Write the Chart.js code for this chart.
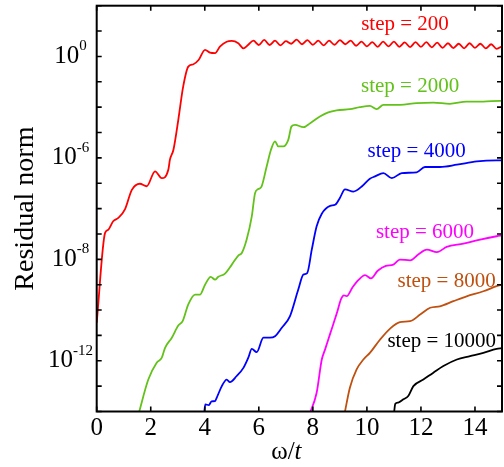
<!DOCTYPE html>
<html>
<head>
<meta charset="utf-8">
<script src="https://cdn.jsdelivr.net/npm/chart.js@4.4.1/dist/chart.umd.min.js"></script>
<style>
  body { margin: 0; background: #fff; }
  canvas { display: block; }
</style>
</head>
<body>
<canvas id="chart" width="504" height="467"></canvas>
<script>
// Valores (x = ω/t, y = norma del residuo)
const red_x = [0, 0.31, 0.43, 0.61, 0.8, 1.05, 1.3, 1.6, 1.85, 2.16, 2.41, 2.65, 2.71, 2.84, 3.02, 3.2, 3.39, 3.58, 3.77, 4.01, 4.19, 4.38, 4.56, 4.81, 5.0, 5.24, 5.43,
  5.6, 5.8, 6.0, 6.2, 6.4, 6.6, 6.8, 7.0, 7.2, 7.4, 7.6, 7.8, 8.0, 8.2, 8.4, 8.6, 8.8, 9.0, 9.2, 9.4, 9.6, 9.8, 10.0, 10.2, 10.4, 10.6, 10.8, 11.0,
  11.2, 11.4, 11.6, 11.8, 12.0, 12.2, 12.4, 12.6, 12.8, 13.0, 13.2, 13.4, 13.6, 13.8, 14.0, 14.2, 14.4, 14.6, 14.8, 15.0];
const red_y = [3.16e-11, 1.10e-7, 1.48e-7, 3.16e-7, 4.27e-7, 9.55e-7, 5.50e-6, 9.55e-6, 7.59e-6, 2.95e-5, 1.58e-5, 3.39e-5, 8.51e-5, 2.09e-4, 3.16e-3, 6.46e-2, 0.398, 0.49, 0.72, 1.82, 1.41, 1.35, 2.45, 3.80, 4.07, 3.31, 2.09,
  2.82, 4.17, 2.82, 4.47, 2.82, 4.17, 2.75, 3.98, 3.16, 4.57, 3.02, 4.37, 2.88, 4.17, 2.75, 4.17, 2.88, 4.37, 3.02, 4.17, 2.63, 3.80, 2.51, 3.63, 2.40, 3.80, 2.51, 3.80,
  2.40, 3.55, 2.34, 3.63, 2.40, 3.63, 2.29, 3.47, 2.19, 3.31, 2.14, 3.16, 2.09, 3.31, 2.19, 3.16, 2.09, 3.02, 2.0, 2.51];

const green_x = [1.55, 1.91, 2.22, 2.41, 2.53, 2.78, 3.02, 3.18, 3.39, 3.64, 3.82, 4.01, 4.22, 4.38, 4.5, 4.75, 5.0, 5.24, 5.37, 5.55, 5.74, 5.86, 5.98, 6.1, 6.29, 6.45, 6.6, 6.72, 6.9,
  7.09, 7.21, 7.34, 7.65, 7.9, 8.26, 8.57, 8.88, 9.37, 9.74, 10.11, 10.36, 10.61, 11.22, 11.84, 12.46, 13.07, 13.69, 14.31, 14.93, 15.0];
const green_y = [7.94e-15, 1.82e-13, 8.32e-13, 1.32e-12, 3.24e-12, 8.13e-12, 2.45e-11, 3.63e-11, 1.66e-10, 4.07e-10, 4.07e-10, 1e-9, 2.04e-9, 1.58e-9, 2.04e-9, 2.75e-9, 6.17e-9, 1.41e-8, 1.78e-8, 6.03e-8, 4.90e-7, 4.07e-6, 5.89e-6, 7.41e-6, 4.57e-5, 2.09e-4, 4.47e-4, 2.82e-4, 2.82e-4,
  5.13e-4, 1.74e-3, 2.0e-3, 1.62e-3, 2.34e-3, 4.27e-3, 6.17e-3, 7.41e-3, 8.32e-3, 1e-2, 1.12e-2, 8.32e-3, 1.23e-2, 1.23e-2, 1.45e-2, 1.51e-2, 1.35e-2, 1.66e-2, 1.66e-2, 1.78e-2, 1.74e-2];

const blue_x = [3.98, 4.02, 4.15, 4.25, 4.38, 4.44, 4.63, 4.81, 4.93, 5.18, 5.43, 5.61, 5.74, 5.92, 6.17, 6.41, 6.6, 6.85, 7.15, 7.46, 7.65, 7.79, 7.96, 8.14, 8.33, 8.64, 8.82,
  9.0, 9.19, 9.5, 9.84, 10.11, 10.3, 10.61, 10.92, 11.29, 11.84, 12.15, 12.7, 13.33, 14.07, 14.8, 15.0];
const blue_y = [8.91e-15, 1.91e-14, 1.78e-14, 2.51e-14, 2.57e-14, 3.47e-14, 1e-13, 1.82e-13, 1.45e-13, 2.51e-13, 5.25e-13, 1.32e-12, 2.95e-12, 2.19e-12, 8.13e-12, 8.13e-12, 9.33e-12, 2.0e-11, 5.62e-11, 6.46e-10, 2.51e-9, 2.88e-9, 2.40e-8, 2.0e-7, 6.31e-7, 1.29e-6, 1.41e-6,
  2.63e-6, 5.75e-6, 4.68e-6, 7.94e-6, 1.51e-5, 1.86e-5, 2.51e-5, 1.58e-5, 2.51e-5, 2.69e-5, 4.37e-5, 4.37e-5, 5.37e-5, 7.24e-5, 7.94e-5, 7.94e-5];

const magenta_x = [7.88, 8.14, 8.33, 8.45, 8.65, 8.88, 9.05, 9.15, 9.25, 9.47, 9.7, 9.93, 10.15, 10.4, 10.7, 10.98, 11.22, 11.6, 11.9, 12.22, 12.59, 12.95, 13.57, 14.19, 14.8, 15.0];
const magenta_y = [7.94e-15, 5.50e-14, 1.12e-12, 2.75e-12, 1.26e-11, 7.08e-11, 2.82e-10, 3.80e-10, 3.55e-10, 7.94e-10, 1.58e-9, 2.40e-9, 1.78e-9, 3.55e-9, 5.50e-9, 6.17e-9, 9.77e-9, 9.12e-9, 1.55e-8, 2.40e-8, 1.91e-8, 3.09e-8, 4.17e-8, 6.03e-8, 8.13e-8, 8.71e-8];

const brown_x = [9.17, 9.37, 9.62, 9.87, 10.11, 10.49, 10.85, 11.22, 11.6, 11.97, 12.34, 12.7, 13.2, 13.69, 14.31, 14.8, 15.0];
const brown_y = [7.94e-15, 8.71e-14, 4.57e-13, 1.12e-12, 2.04e-12, 6.92e-12, 1.82e-11, 3.31e-11, 3.63e-11, 6.61e-11, 1.23e-10, 1.41e-10, 2.24e-10, 3.47e-10, 5.50e-10, 8.71e-10, 1e-9];

const black_x = [11.0, 11.05, 11.16, 11.35, 11.53, 11.72, 12.09, 12.46, 12.83, 13.33, 13.82, 14.31, 14.8, 15.0];
const black_y = [7.94e-15, 2.0e-14, 2.24e-14, 3.02e-14, 4.07e-14, 1e-13, 1.82e-13, 3.39e-13, 6.17e-13, 1.12e-12, 1.51e-12, 2.04e-12, 2.95e-12, 3.16e-12];

const stepNames = ['step = 200', 'step = 2000', 'step = 4000', 'step = 6000', 'step = 8000', 'step = 10000'];
const stepLabelX = [11.41, 11.6, 11.84, 12.15, 12.95, 12.77];
const stepLabelY = [19, 6.3e-2, 1.74e-4, 1.1e-7, 1.35e-9, 5.9e-12];

const xTicks = [0, 2, 4, 6, 8, 10, 12, 14];
const yDecades = [1e-14, 1e-13, 1e-12, 1e-11, 1e-10, 1e-9, 1e-8, 1e-7, 1e-6, 1e-5, 1e-4, 1e-3, 1e-2, 1e-1, 1, 1e1, 1e2];
// etiquetas tal como aparecen en la figura
const yLabelValues = [1, 1e-4, 1e-8, 1e-12];
const yLabelExp = ['0', '-6', '-8', '-12'];

const colors = ['#ff0000', '#62c21a', '#0000ff', '#ff00ff', '#c0500f', '#000000'];
const series = [[red_x, red_y], [green_x, green_y], [blue_x, blue_y], [magenta_x, magenta_y], [brown_x, brown_y], [black_x, black_y]];

const serif = "'Liberation Serif', 'Times New Roman', serif";

// Dibuja marco, marcas hacia dentro y textos
const decor = {
  id: 'decor',
  afterDraw(chart) {
    const { ctx, chartArea: a, scales: { x, y } } = chart;
    ctx.save();
    ctx.strokeStyle = '#000';
    ctx.lineWidth = 1.6;
    ctx.beginPath();
    x.ticks.forEach(t => {
      const px = x.getPixelForValue(t.value);
      ctx.moveTo(px, a.bottom); ctx.lineTo(px, a.bottom - 5);
      ctx.moveTo(px, a.top); ctx.lineTo(px, a.top + 5);
    });
    y.ticks.forEach(t => {
      const py = y.getPixelForValue(t.value);
      ctx.moveTo(a.left, py); ctx.lineTo(a.left + 5, py);
      ctx.moveTo(a.right, py); ctx.lineTo(a.right - 5, py);
    });
    ctx.stroke();
    ctx.lineWidth = 2;
    ctx.strokeRect(a.left, a.top, a.width, a.height);

    // etiquetas del eje y: 10 con exponente
    ctx.fillStyle = '#000';
    ctx.textBaseline = 'alphabetic';
    ctx.textAlign = 'left';
    yLabelValues.forEach((v, i) => {
      const py = y.getPixelForValue(v);
      ctx.font = '25px ' + serif;
      const wb = ctx.measureText('10').width;
      ctx.font = '15px ' + serif;
      const ws = ctx.measureText(yLabelExp[i]).width;
      const x0 = 70.5 - (wb + ws) / 2;
      ctx.font = '25px ' + serif;
      ctx.fillText('10', x0, py + 6.5);
      ctx.font = '15px ' + serif;
      ctx.fillText(yLabelExp[i], x0 + wb, py - 6);
    });

    // título del eje x: ω/t con t en cursiva
    ctx.font = '25px ' + serif;
    const w1 = ctx.measureText('ω/').width;
    ctx.font = 'italic 25px ' + serif;
    const w2 = ctx.measureText('t').width;
    const cx = (a.left + a.right) / 2 - 13;
    ctx.font = '25px ' + serif;
    ctx.fillText('ω/', cx - (w1 + w2) / 2, 459);
    ctx.font = 'italic 25px ' + serif;
    ctx.fillText('t', cx - (w1 + w2) / 2 + w1, 459);

    // rótulos de cada curva
    ctx.font = '21px ' + serif;
    ctx.textAlign = 'center';
    ctx.textBaseline = 'middle';
    stepNames.forEach((s, i) => {
      ctx.fillStyle = colors[i];
      ctx.fillText(s, x.getPixelForValue(stepLabelX[i]), y.getPixelForValue(stepLabelY[i]));
    });
    ctx.restore();
  }
};

const ctx = document.getElementById('chart').getContext('2d');
new Chart(ctx, {
  type: 'line',
  data: {
    datasets: series.map((s, i) => ({
      label: stepNames[i],
      data: s[0].map((xv, j) => ({ x: xv, y: s[1][j] })),
      borderColor: colors[i],
      borderWidth: 1.8,
      pointRadius: 0,
      cubicInterpolationMode: 'monotone',
      fill: false
    }))
  },
  options: {
    responsive: false,
    animation: false,
    devicePixelRatio: 1,
    layout: { padding: { top: 5.7, right: 2, left: 0, bottom: 0 } },
    plugins: { legend: { display: false }, tooltip: { enabled: false } },
    scales: {
      x: {
        type: 'linear',
        min: 0,
        max: 15,
        afterBuildTicks: s => { s.ticks = xTicks.map(v => ({ value: v })); },
        afterFit: s => { s.height = 55.5; },
        grid: { display: false, drawTicks: false },
        border: { display: false },
        ticks: { color: '#000', padding: 2, maxRotation: 0, font: { family: serif, size: 25 } }
      },
      y: {
        type: 'logarithmic',
        min: 1e-14,
        max: 1e2,
        afterBuildTicks: s => { s.ticks = yDecades.map(v => ({ value: v })); },
        afterFit: s => { s.width = 96.7; },
        grid: { display: false, drawTicks: false },
        border: { display: false },
        ticks: { display: false },
        title: {
          display: true,
          text: 'Residual norm',
          color: '#000',
          padding: { top: 9, bottom: 0 },
          font: { family: serif, size: 28 }
        }
      }
    }
  },
  plugins: [decor]
});
</script>
</body>
</html>
